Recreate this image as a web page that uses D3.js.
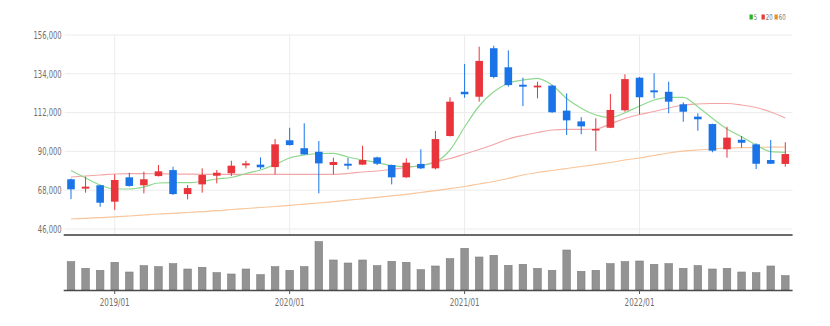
<!DOCTYPE html>
<html>
<head>
<meta charset="utf-8">
<script src="https://cdn.jsdelivr.net/npm/d3@7"></script>
<style>
  html, body { margin: 0; padding: 0; background: #fff; }
  svg { display: block; }
  text { font-family: "Liberation Sans Narrow", "DejaVu Sans Condensed", "Liberation Sans", sans-serif; }
</style>
</head>
<body>
<svg id="chart" width="830" height="326"></svg>
<script>
// Monthly candles, 2018/10 – 2022/11
const months = [
  "2018/10","2018/11","2018/12",
  "2019/01","2019/02","2019/03","2019/04","2019/05","2019/06","2019/07","2019/08","2019/09","2019/10","2019/11","2019/12",
  "2020/01","2020/02","2020/03","2020/04","2020/05","2020/06","2020/07","2020/08","2020/09","2020/10","2020/11","2020/12",
  "2021/01","2021/02","2021/03","2021/04","2021/05","2021/06","2021/07","2021/08","2021/09","2021/10","2021/11","2021/12",
  "2022/01","2022/02","2022/03","2022/04","2022/05","2022/06","2022/07","2022/08","2022/09","2022/10","2022/11"
];
const openPrice = [
  74200, 68900, 70800, 61500, 75300, 70800, 76000, 79400, 65800, 71300,
  76200, 77600, 82100, 82500, 81100, 96300, 91800, 89800, 82300, 83000,
  82500, 86600, 82300, 75300, 82900, 80400, 98700, 123800, 121000, 148500,
  137700, 127800, 126300, 127300, 113100, 107000, 102000, 103400, 113300, 131800,
  124600, 123800, 116700, 109700, 105500, 91200, 96600, 94000, 85100, 82900
];
const highPrice = [
  74600, 75700, 71000, 77000, 77900, 78500, 82300, 81300, 70900, 80400,
  79400, 84700, 84700, 86600, 97000, 103400, 105900, 95900, 86400, 86400,
  93200, 87000, 82500, 86100, 91200, 101600, 120700, 139600, 149400, 149900,
  147300, 131800, 129500, 127700, 122900, 109400, 108800, 122600, 133700, 132200,
  134300, 129500, 117800, 111600, 105700, 104000, 98700, 94600, 96500, 95200
];
const lowPrice = [
  63000, 66600, 58600, 56800, 70000, 66200, 75800, 65300, 62800, 66600,
  71900, 76000, 80400, 80000, 77000, 93300, 88200, 66200, 77000, 79800,
  82300, 82300, 71300, 75000, 80000, 79800, 98500, 120400, 118200, 131400,
  126700, 115700, 120100, 111800, 99300, 99700, 90200, 103200, 112500, 111000,
  120100, 111600, 106800, 101700, 89500, 86400, 92100, 80000, 82900, 81300
];
const closePrice = [
  68500, 70000, 60900, 73800, 70400, 74200, 78700, 65800, 69200, 76600,
  77900, 81900, 83200, 81000, 94000, 93600, 88300, 83200, 84000, 81900,
  85100, 83000, 75300, 83600, 80400, 97000, 118200, 122400, 141300, 132200,
  127600, 126700, 127300, 112200, 107600, 104200, 102700, 113500, 131000, 120700,
  123500, 118200, 112500, 108200, 90400, 97800, 94900, 83000, 83000, 88500
];
const volume = [
  1700000, 1300000, 1180000, 1660000, 1080000, 1460000, 1400000, 1580000, 1260000, 1360000,
  1040000, 960000, 1260000, 920000, 1400000, 1180000, 1400000, 2900000, 1800000, 1620000,
  1800000, 1460000, 1720000, 1660000, 1220000, 1440000, 1880000, 2500000, 1980000, 2080000,
  1480000, 1540000, 1300000, 1180000, 2400000, 1120000, 1180000, 1580000, 1700000, 1740000,
  1540000, 1580000, 1300000, 1460000, 1260000, 1300000, 1080000, 1040000, 1440000, 860000
];
// Moving averages of the close (5, 20 and 60 months)
const ma5 = [
  79170, 74920, 70950, 68680, 68680, 69810, 72080, 72250, 72250, 72930,
  74350, 75200, 77470, 79450, 82570, 86260, 87960, 88810, 88920, 86820,
  85120, 83710, 81890, 81320, 82000, 83990, 90790, 103830, 115740, 123850,
  128610, 130480, 131450, 127650, 119990, 114440, 110640, 109220, 111940, 115740,
  119140, 120670, 120670, 115340, 108770, 102700, 98330, 93630, 89830, 89490
];
const ma20 = [
  75480, 76050, 76620, 77190, 77400, 77400, 77300, 77200, 77100, 77000,
  77000, 77000, 77000, 77000, 77010, 77010, 77010, 77010, 77010, 77470,
  78320, 78890, 79740, 80870, 82000, 83990, 85970, 88530, 91080, 93910,
  97030, 99020, 100720, 102130, 102530, 102530, 102700, 105540, 108650, 110920,
  112620, 114610, 116310, 116880, 117160, 117160, 116310, 114890, 112340, 108940
];
const ma60 = [
  51670, 52070, 52460, 52860, 53370, 53940, 54510, 54900, 55360, 55870,
  56380, 57060, 57620, 58190, 58760, 59440, 60060, 60740, 61480, 62330,
  63120, 63970, 64820, 65680, 66700, 67720, 68850, 70100, 71520, 72930,
  74630, 76620, 78040, 79170, 80300, 81440, 82570, 83710, 85120, 86260,
  87680, 89090, 90110, 90790, 91360, 91930, 92100, 92320, 92380, 92500
];
const priceTicks = [46000, 68000, 90000, 112000, 134000, 156000];
const dateTicks = ["2019/01", "2020/01", "2021/01", "2022/01"];
const legendLabels = ["5", "20", "60"];

const UP = "#e8343a", DOWN = "#1a74e8";
const lineColors = ["#8ed98e", "#f4a6a6", "#f9c59a"];
const legendColors = ["#26b426", "#e83a3a", "#f28b26"];

const svg = d3.select("#chart");
const left = 63.7, right = 792.6;
const priceTop = 35, priceBottom = 229, panelBottom = 235;
const volTop = 240, volBottom = 290;

const x = d3.scaleBand().domain(months).range([left, right])
  .paddingInner(0.48).paddingOuter(0.24);
const cx = m => x(m) + x.bandwidth() / 2;
const y = d3.scaleLinear().domain([46000, 156000]).range([priceBottom, priceTop]);
const yv = d3.scaleLinear().domain([0, 3000000]).range([volBottom, volTop]);

// grid
const grid = svg.append("g");
grid.selectAll("line.h").data(priceTicks).join("line")
  .attr("x1", left + 1).attr("x2", right)
  .attr("y1", d => y(d)).attr("y2", d => y(d))
  .attr("stroke", "#ececec").attr("stroke-width", 1);
grid.selectAll("line.v").data(dateTicks).join("line")
  .attr("x1", d => cx(d)).attr("x2", d => cx(d))
  .attr("y1", priceTop).attr("y2", panelBottom)
  .attr("stroke", "#ececec").attr("stroke-width", 1);

// price axis labels
const yAxis = d3.axisLeft(y).tickValues(priceTicks).tickSize(0).tickPadding(0)
  .tickFormat(d3.format(","));
const ya = svg.append("g").attr("transform", `translate(${left - 2},0)`).call(yAxis);
ya.select(".domain").remove();
ya.selectAll("text")
  .attr("fill", "#707070").attr("font-size", 10)
  .attr("x", null).attr("dy", null)
  .attr("dominant-baseline", "central")
  .attr("transform", "scale(0.76,1)")
  .attr("text-anchor", "end");

// panel frame line
svg.append("line").attr("x1", left).attr("x2", right)
  .attr("y1", panelBottom).attr("y2", panelBottom)
  .attr("stroke", "#3a3a3a").attr("stroke-width", 1.6);

// moving averages
const line = arr => d3.line()
  .x((d, i) => cx(months[i])).y(d => y(d))
  .curve(d3.curveMonotoneX)(arr);
[ma60, ma20, ma5].forEach((arr, k) => {
  svg.append("path").attr("d", line(arr))
    .attr("fill", "none").attr("stroke", lineColors[2 - k]).attr("stroke-width", 1.2);
});

// candles
const candles = svg.append("g").selectAll("g").data(months).join("g")
  .attr("fill", (m, i) => closePrice[i] >= openPrice[i] ? UP : DOWN)
  .attr("stroke", (m, i) => closePrice[i] >= openPrice[i] ? UP : DOWN);
candles.append("line")
  .attr("x1", m => cx(m)).attr("x2", m => cx(m))
  .attr("y1", (m, i) => y(highPrice[i])).attr("y2", (m, i) => y(lowPrice[i]))
  .attr("stroke-width", 1);
candles.append("rect")
  .attr("x", m => x(m)).attr("width", x.bandwidth())
  .attr("y", (m, i) => y(Math.max(openPrice[i], closePrice[i])))
  .attr("height", (m, i) => Math.max(1.5, Math.abs(y(openPrice[i]) - y(closePrice[i]))))
  .attr("stroke", "none");

// volume bars
svg.append("g").selectAll("rect").data(months).join("rect")
  .attr("x", m => x(m)).attr("width", x.bandwidth())
  .attr("y", (m, i) => yv(volume[i]))
  .attr("height", (m, i) => volBottom - yv(volume[i]))
  .attr("fill", "#939393").attr("stroke", "#7d7d7d").attr("stroke-width", 0.6);

// time axis
const xAxis = d3.axisBottom(x).tickValues(dateTicks).tickSize(4).tickPadding(5);
const xa = svg.append("g").attr("transform", `translate(0,${volBottom})`).call(xAxis);
xa.select(".domain").attr("d", `M${left},0.5H${right}`)
  .attr("stroke", "#4a4a4a").attr("stroke-width", 1.6);
xa.selectAll(".tick line").attr("stroke", "#555");
xa.selectAll(".tick text")
  .attr("fill", "#707070").attr("font-size", 10)
  .attr("transform", "scale(0.8,1)").attr("x", 0);

// legend
const lg = svg.append("g").attr("transform", "translate(749.5,14.5)");
const offs = [0, 12, 25];
legendLabels.forEach((lab, k) => {
  lg.append("rect").attr("x", offs[k]).attr("y", 0).attr("width", 3.3).attr("height", 5)
    .attr("fill", legendColors[k]);
  lg.append("text").attr("transform", `translate(${offs[k] + 4.3},5.3) scale(0.75,1)`)
    .attr("font-size", 8).attr("fill", "#777").text(lab);
});
</script>
</body>
</html>
